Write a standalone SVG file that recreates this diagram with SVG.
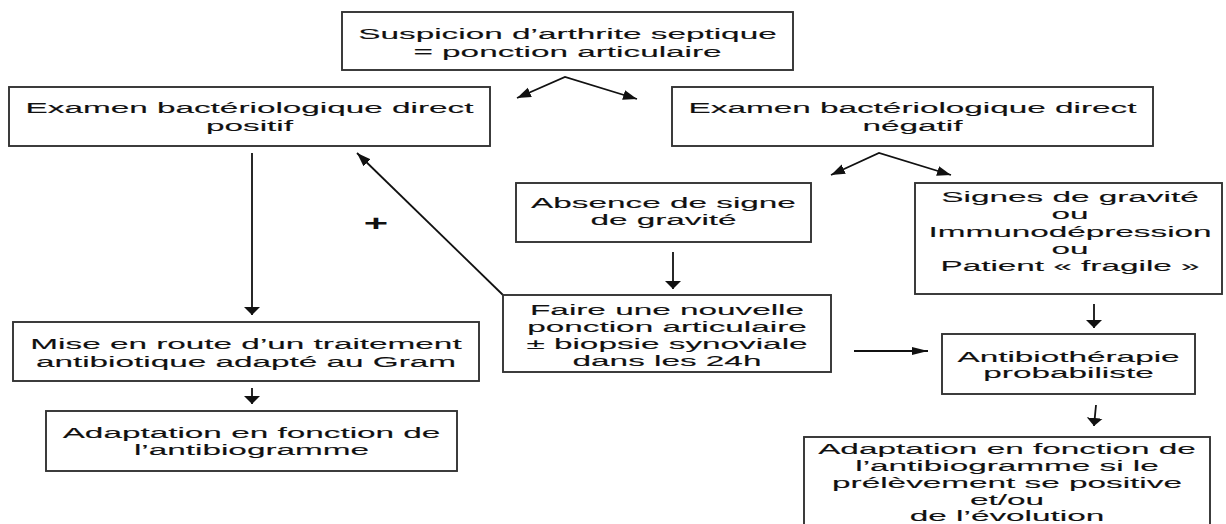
<svg xmlns="http://www.w3.org/2000/svg" width="1226" height="524" viewBox="0 0 1226 524">
<style>
.box{fill:#fff;stroke:#333;stroke-width:1.9}
.t{font-family:"Liberation Sans",Arial,sans-serif;font-size:15.5px;fill:#111;stroke:#111;stroke-width:0.12;text-anchor:middle}
.c{fill:none;stroke:#111;stroke-width:1.8}
</style>
<defs>
<marker id="mv" markerUnits="userSpaceOnUse" markerWidth="10" markerHeight="18" refX="8" refY="8" orient="auto">
<path d="M0,0 L8,8 L0,16 Z" fill="#111"/>
</marker>
<marker id="mh" markerUnits="userSpaceOnUse" markerWidth="18" markerHeight="10" refX="16" refY="4" orient="auto">
<path d="M0,0 L16,4 L0,8 Z" fill="#111"/>
</marker>
<marker id="md" markerUnits="userSpaceOnUse" markerWidth="16" markerHeight="12" refX="14" refY="5" orient="auto-start-reverse">
<path d="M0,0 L14,5 L0,10 Z" fill="#111"/>
</marker>
</defs>
<rect width="1226" height="524" fill="#fff"/>
<g id="connectors">
<path class="c" d="M517,98 L565,77 L637,99" marker-start="url(#md)" marker-end="url(#md)"/>
<path class="c" d="M252,153 L252,315" marker-end="url(#mv)"/>
<path class="c" d="M252,388 L252,404" marker-end="url(#mv)"/>
<path class="c" d="M503,295 L357,153" marker-end="url(#md)"/>
<path class="c" d="M831,175 L879,153 L951,175" marker-start="url(#md)" marker-end="url(#md)"/>
<path class="c" d="M673,252 L673,289" marker-end="url(#mv)"/>
<path class="c" d="M854,351 L928,351" marker-end="url(#mh)"/>
<path class="c" d="M1094,304 L1094,328" marker-end="url(#mv)"/>
<path class="c" d="M1096,405 L1094,426" marker-end="url(#mv)"/>
<text transform="translate(376,0) scale(1.9,1)" x="0" y="231" style="font-family:'Liberation Sans',Arial,sans-serif;font-size:22px;font-weight:bold;text-anchor:middle;fill:#111">+</text>
</g>
<g id="n-suspicion">
<rect class="box" x="342" y="12" width="451" height="58"/>
<text class="t" transform="translate(567.5,0) scale(2.15,1)"><tspan x="0" y="39">Suspicion d’arthrite septique</tspan><tspan x="0" y="57">= ponction articulaire</tspan></text>
</g>
<g id="n-positif">
<rect class="box" x="9" y="87" width="481" height="59"/>
<text class="t" transform="translate(249.5,0) scale(2.15,1)"><tspan x="0" y="113">Examen bactériologique direct</tspan><tspan x="0" y="131">positif</tspan></text>
</g>
<g id="n-negatif">
<rect class="box" x="672" y="87" width="481" height="59"/>
<text class="t" transform="translate(912.5,0) scale(2.15,1)"><tspan x="0" y="113">Examen bactériologique direct</tspan><tspan x="0" y="131">négatif</tspan></text>
</g>
<g id="n-absence">
<rect class="box" x="516" y="183" width="295" height="59"/>
<text class="t" transform="translate(663.5,0) scale(2.15,1)"><tspan x="0" y="208">Absence de signe</tspan><tspan x="0" y="225">de gravité</tspan></text>
</g>
<g id="n-signes">
<rect class="box" x="915" y="183" width="307" height="111"/>
<text class="t" transform="translate(1070,0) scale(2.15,1)"><tspan x="0" y="202">Signes de gravité</tspan><tspan x="0" y="219">ou</tspan><tspan x="0" y="237">Immunodépression</tspan><tspan x="0" y="254">ou</tspan><tspan x="0" y="271">Patient « fragile »</tspan></text>
</g>
<g id="n-faire">
<rect class="box" x="503" y="295" width="328" height="77"/>
<text class="t" transform="translate(667,0) scale(2.15,1)"><tspan x="0" y="315">Faire une nouvelle</tspan><tspan x="0" y="332">ponction articulaire</tspan><tspan x="0" y="349">± biopsie synoviale</tspan><tspan x="0" y="366">dans les 24h</tspan></text>
</g>
<g id="n-antibio">
<rect class="box" x="942" y="334" width="253" height="60"/>
<text class="t" transform="translate(1068.5,0) scale(2.15,1)"><tspan x="0" y="362">Antibiothérapie</tspan><tspan x="0" y="378">probabiliste</tspan></text>
</g>
<g id="n-mise">
<rect class="box" x="13" y="322" width="466" height="59"/>
<text class="t" transform="translate(246,0) scale(2.15,1)"><tspan x="0" y="349">Mise en route d’un traitement</tspan><tspan x="0" y="367">antibiotique adapté au Gram</tspan></text>
</g>
<g id="n-adapt-left">
<rect class="box" x="46" y="411" width="411" height="60"/>
<text class="t" transform="translate(251.5,0) scale(2.15,1)"><tspan x="0" y="438">Adaptation en fonction de</tspan><tspan x="0" y="455">l’antibiogramme</tspan></text>
</g>
<g id="n-adapt-right">
<rect class="box" x="804" y="437" width="406" height="110"/>
<text class="t" transform="translate(1007,0) scale(2.15,1)"><tspan x="0" y="454">Adaptation en fonction de</tspan><tspan x="0" y="471">l’antibiogramme si le</tspan><tspan x="0" y="488">prélèvement se positive</tspan><tspan x="0" y="505">et/ou</tspan><tspan x="0" y="521">de l’évolution</tspan></text>
</g>
</svg>
